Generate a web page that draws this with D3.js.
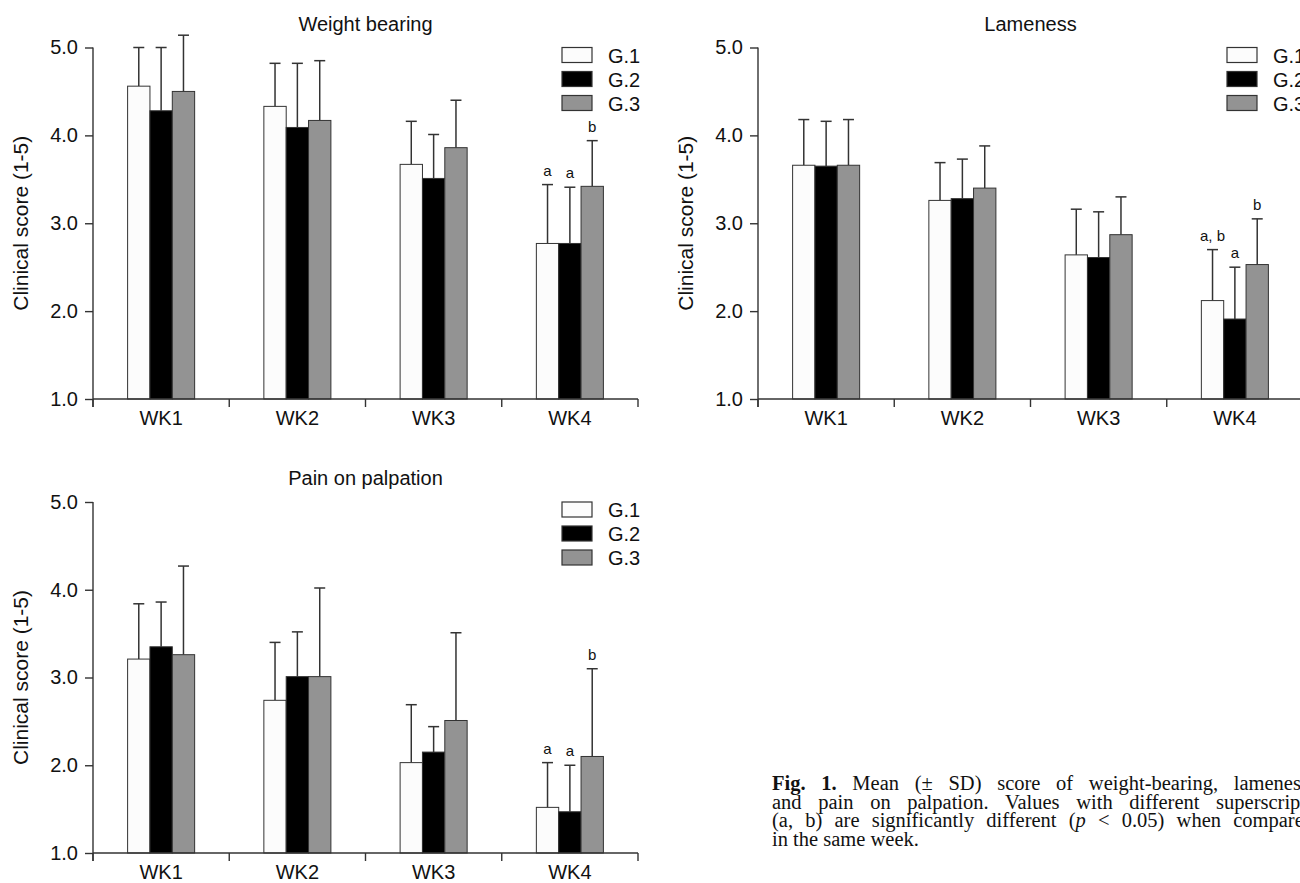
<!DOCTYPE html>
<html lang="en">
<head>
  <meta charset="UTF-8">
  <title>Clinical scores</title>
  <script src="https://d3js.org/d3.v7.min.js"></script>
  <style>
    body {
      margin: 0;
      width: 1300px;
      height: 883px;
      overflow: hidden;
      background: #fff;
      position: relative;
    }

    svg text {
      font-family: "Liberation Sans", Arial, sans-serif;
      fill: #111;
    }

    .caption {
      position: absolute;
      left: 772px;
      top: 774px;
      width: 542px;
      font-family: "Liberation Serif", "Times New Roman", serif;
      font-size: 20.5px;
      line-height: 18.6px;
      color: #111;
    }

    .caption div {
      text-align: justify;
      text-align-last: justify;
      white-space: nowrap;
    }

    .caption div:last-child {
      text-align-last: left;
    }
  </style>
</head>
<body>

  <svg id="chart" width="1300" height="883"></svg>

  <div class="caption">
    <div><b>Fig. 1.</b> Mean (± SD) score of weight-bearing, lameness,</div>
    <div>and pain on palpation. Values with different superscripts</div>
    <div>(a, b) are significantly different (<i>p</i> &lt; 0.05) when compared</div>
    <div>in the same week.</div>
  </div>

  <script>
    // weeks and groups
    const weeks = ["WK1", "WK2", "WK3", "WK4"];
    const groups = ["G.1", "G.2", "G.3"];
    const yTicks = [1, 2, 3, 4, 5];

    // mean scores per week (G.1, G.2, G.3)
    const weightMean = [[4.56, 4.28, 4.50], [4.33, 4.09, 4.17], [3.67, 3.51, 3.86], [2.77, 2.77, 3.42]];
    const weightSD = [[0.44, 0.72, 0.64], [0.49, 0.73, 0.68], [0.49, 0.50, 0.54], [0.67, 0.64, 0.52]];
    const weightLetters = [null, null, null, ["a", "a", "b"]];

    const lameMean = [[3.66, 3.65, 3.66], [3.26, 3.28, 3.40], [2.64, 2.61, 2.87], [2.12, 1.91, 2.53]];
    const lameSD = [[0.52, 0.51, 0.52], [0.43, 0.45, 0.48], [0.52, 0.52, 0.43], [0.58, 0.59, 0.52]];
    const lameLetters = [null, null, null, ["a, b", "a", "b"]];

    const painMean = [[3.21, 3.35, 3.26], [2.74, 3.01, 3.01], [2.03, 2.15, 2.51], [1.52, 1.47, 2.10]];
    const painSD = [[0.63, 0.51, 1.01], [0.66, 0.51, 1.01], [0.66, 0.29, 1.00], [0.51, 0.53, 1.00]];
    const painLetters = [null, null, null, ["a", "a", "b"]];

    const colors = ["#fcfcfc", "#000000", "#939393"];
    const ink = "#333";

    const svg = d3.select("#chart");

    drawPanel({ left: 93, top: 47.5, bottom: 399, title: "Weight bearing", mean: weightMean, sd: weightSD, letters: weightLetters });
    drawPanel({ left: 758, top: 47.5, bottom: 399, title: "Lameness", mean: lameMean, sd: lameSD, letters: lameLetters });
    drawPanel({ left: 93, top: 502, bottom: 853, title: "Pain on palpation", mean: painMean, sd: painSD, letters: painLetters });

    function drawPanel(cfg) {
      const width = 545;
      const height = cfg.bottom - cfg.top;
      const pad = 0.508;

      const g = svg.append("g")
        .attr("transform", "translate(" + cfg.left + "," + cfg.top + ")");

      const y = d3.scaleLinear().domain([1, 5]).range([height, 0]);

      const x0 = d3.scaleBand()
        .domain(weeks)
        .range([0, width])
        .paddingInner(pad)
        .paddingOuter(pad / 2);

      const x1 = d3.scaleBand()
        .domain(groups)
        .range([0, x0.bandwidth()]);

      // rows of data
      const rows = [];
      weeks.forEach((wk, i) => {
        groups.forEach((gr, j) => {
          rows.push({
            week: wk,
            group: gr,
            j: j,
            mean: cfg.mean[i][j],
            sd: cfg.sd[i][j],
            letter: cfg.letters[i] ? cfg.letters[i][j] : null
          });
        });
      });

      // error bars (drawn first so bars cover the lower part)
      const err = g.append("g").attr("class", "errors");
      err.selectAll(".stem")
        .data(rows)
        .enter()
        .append("line")
        .attr("x1", d => x0(d.week) + x1(d.group) + x1.bandwidth() / 2)
        .attr("x2", d => x0(d.week) + x1(d.group) + x1.bandwidth() / 2)
        .attr("y1", d => y(d.mean))
        .attr("y2", d => y(d.mean + d.sd))
        .attr("stroke", ink)
        .attr("stroke-width", 1.5);

      err.selectAll(".cap")
        .data(rows)
        .enter()
        .append("line")
        .attr("x1", d => x0(d.week) + x1(d.group) + x1.bandwidth() / 2 - 5.5)
        .attr("x2", d => x0(d.week) + x1(d.group) + x1.bandwidth() / 2 + 5.5)
        .attr("y1", d => y(d.mean + d.sd))
        .attr("y2", d => y(d.mean + d.sd))
        .attr("stroke", ink)
        .attr("stroke-width", 1.5);

      // bars
      g.selectAll(".bar")
        .data(rows)
        .enter()
        .append("rect")
        .attr("class", "bar")
        .attr("x", d => x0(d.week) + x1(d.group))
        .attr("y", d => y(d.mean))
        .attr("width", x1.bandwidth())
        .attr("height", d => y(1) - y(d.mean))
        .attr("fill", d => colors[d.j])
        .attr("stroke", ink)
        .attr("stroke-width", 1);

      // significance letters
      g.selectAll(".letter")
        .data(rows.filter(d => d.letter))
        .enter()
        .append("text")
        .attr("x", d => x0(d.week) + x1(d.group) + x1.bandwidth() / 2)
        .attr("y", d => y(d.mean + d.sd) - 9)
        .attr("text-anchor", "middle")
        .attr("font-size", "15px")
        .text(d => d.letter);

      // y axis
      const yAxis = g.append("g")
        .call(d3.axisLeft(y).tickValues(yTicks).tickFormat(d3.format(".1f")).tickSize(8).tickPadding(7).tickSizeOuter(0));
      yAxis.selectAll("path, line").attr("stroke", ink).attr("stroke-width", 1.4);
      yAxis.selectAll("text").attr("font-size", "20px").attr("fill", "#111");
      yAxis.select(".domain").attr("d", "M0," + (height + 8) + "V0");

      // x axis: baseline, boundary ticks and week labels
      const xAxis = g.append("g")
        .attr("transform", "translate(0," + height + ")")
        .call(d3.axisBottom(x0).tickSize(0).tickPadding(12).tickSizeOuter(0));
      xAxis.select(".domain").attr("stroke", ink).attr("stroke-width", 1.4).attr("d", "M0,0H" + width);
      xAxis.selectAll("text").attr("font-size", "20px").attr("fill", "#111");

      const bounds = weeks.map(w => x0(w) - x0.step() * pad / 2).concat([width]);
      xAxis.selectAll(".bound")
        .data(bounds)
        .enter()
        .append("line")
        .attr("x1", d => d)
        .attr("x2", d => d)
        .attr("y1", 0)
        .attr("y2", 8)
        .attr("stroke", ink)
        .attr("stroke-width", 1.4);

      // y axis label
      g.append("text")
        .attr("transform", "rotate(-90)")
        .attr("x", -height / 2)
        .attr("y", -65)
        .attr("text-anchor", "middle")
        .attr("font-size", "21px")
        .text("Clinical score (1-5)");

      // title
      g.append("text")
        .attr("x", width / 2)
        .attr("y", -17)
        .attr("text-anchor", "middle")
        .attr("font-size", "20px")
        .text(cfg.title);

      // legend
      const legend = g.append("g")
        .attr("transform", "translate(469,0)");
      legend.selectAll("rect")
        .data(groups)
        .enter()
        .append("rect")
        .attr("x", 0)
        .attr("y", (d, i) => i * 24)
        .attr("width", 30)
        .attr("height", 15)
        .attr("fill", (d, i) => colors[i])
        .attr("stroke", ink)
        .attr("stroke-width", 1.2);
      legend.selectAll("text")
        .data(groups)
        .enter()
        .append("text")
        .attr("x", 46)
        .attr("y", (d, i) => i * 24 + 15)
        .attr("font-size", "20px")
        .text(d => d);
    }
  </script>

</body>
</html>
